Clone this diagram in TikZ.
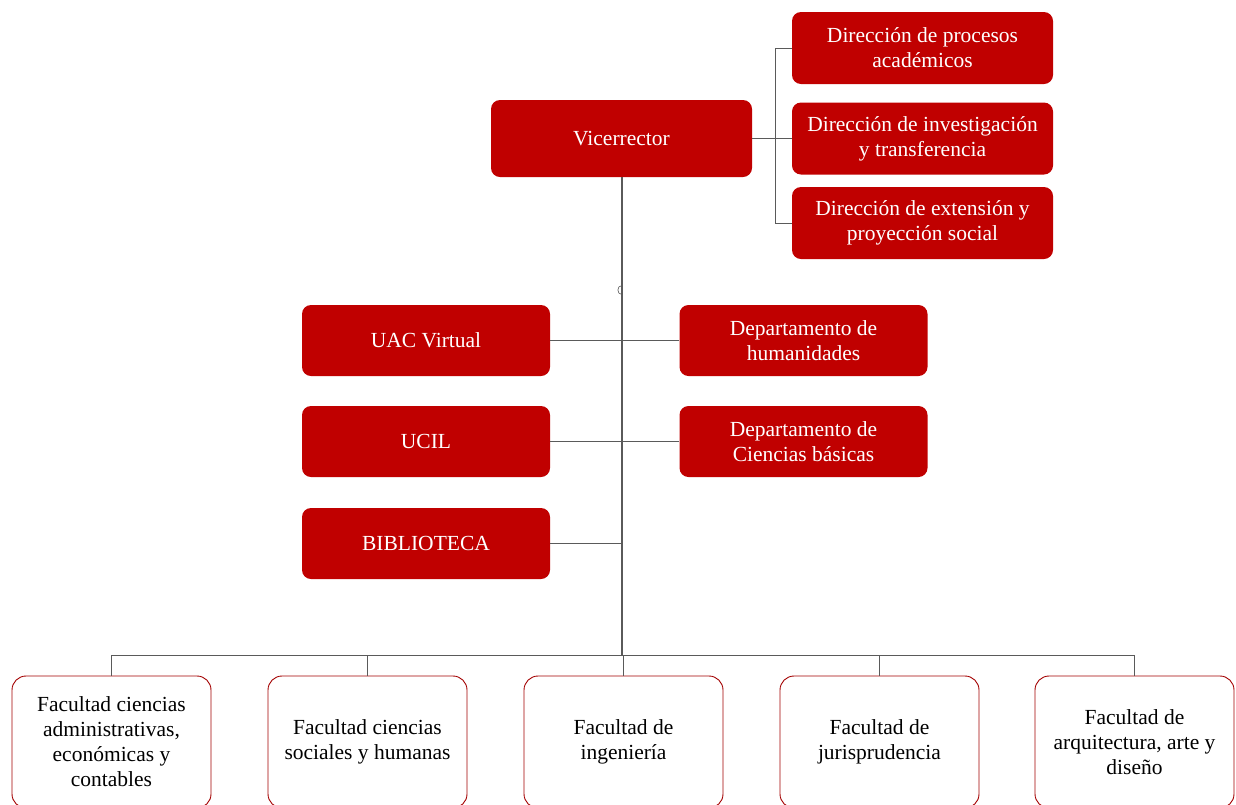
\documentclass[tikz,border=0pt]{standalone}
\usepackage{fontspec}
\setmainfont{Liberation Serif}
\usetikzlibrary{positioning}
\definecolor{uacred}{HTML}{C00000}
\definecolor{linegray}{HTML}{5A5A5A}
\begin{document}
\begin{tikzpicture}[x=1pt,y=-1pt,line join=round,
	redbox/.style={rectangle,rounded corners=9pt,fill=uacred,text=white,align=center,inner sep=0pt,font=\fontsize{21.5}{25}\selectfont},
	facbox/.style={rectangle,rounded corners=14pt,draw=uacred!85!black,line width=.9pt,fill=white,text=black,align=center,inner sep=0pt,minimum width=199pt,minimum height=132pt,font=\fontsize{21.5}{25}\selectfont},
	conn/.style={draw=linegray,line width=.9pt}]
	\clip (0,0) rectangle (1236,804);
	% cabeza
	\node[redbox,minimum width=261pt,minimum height=77pt] (vice) at (621.5,138.5) {Vicerrector};
	\node[redbox,minimum width=261pt,minimum height=72pt] (dirA) at (922.5,48) {Dirección de procesos\\académicos};
	\node[redbox,minimum width=261pt,minimum height=72pt] (dirB) at (922.5,138.5) {Dirección de investigación\\y transferencia};
	\node[redbox,minimum width=261pt,minimum height=72pt] (dirC) at (922.5,223) {Dirección de extensión y\\proyección social};
	% unidades de apoyo
	\node[redbox,minimum width=248pt,minimum height=71pt] (uacv) at (426,340.5) {UAC Virtual};
	\node[redbox,minimum width=248pt,minimum height=71pt] (ucil) at (426,441.5) {UCIL};
	\node[redbox,minimum width=248pt,minimum height=71pt] (bibl) at (426,543.5) {BIBLIOTECA};
	\node[redbox,minimum width=248pt,minimum height=71pt] (hum) at (803.5,340.5) {Departamento de\\humanidades};
	\node[redbox,minimum width=248pt,minimum height=71pt] (cien) at (803.5,441.5) {Departamento de\\Ciencias básicas};
	% facultades
	\node[facbox] (fac1) at (111.5,742) {Facultad ciencias\\administrativas,\\económicas y\\contables};
	\node[facbox] (fac2) at (367.5,742) {Facultad ciencias\\sociales y humanas};
	\node[facbox] (fac3) at (623.5,742) {Facultad de\\ingeniería};
	\node[facbox] (fac4) at (879.5,742) {Facultad de\\jurisprudencia};
	\node[facbox] (fac5) at (1134.5,742) {Facultad de\\arquitectura, arte y\\diseño};
	% conectores
	\coordinate (brk) at (775,138.5);
	\coordinate (bus) at (622,655);
	\draw[conn] (vice.east) -- (brk);
	\foreach \d in {dirA,dirB,dirC} \draw[conn] (brk |- \d.west) -- (\d.west);
	\draw[conn] (brk |- dirA.west) -- (brk |- dirC.west);
	\draw[conn,line width=1.6pt] (vice.south -| bus) -- (bus);
	\draw[conn,line width=.6pt] (622,285.5) .. controls (616.5,285.5) and (616.5,294.5) .. (622,294.5);
	\draw[conn] (uacv.east) -- (hum.west);
	\draw[conn] (ucil.east) -- (cien.west);
	\draw[conn] (bibl.east) -- (bibl.east -| bus);
	\draw[conn] (bus -| fac1.north) -- (bus -| fac5.north);
	\foreach \f in {fac1,fac2,fac3,fac4,fac5} \draw[conn] (bus -| \f.north) -- (\f.north);
\end{tikzpicture}
\end{document}
